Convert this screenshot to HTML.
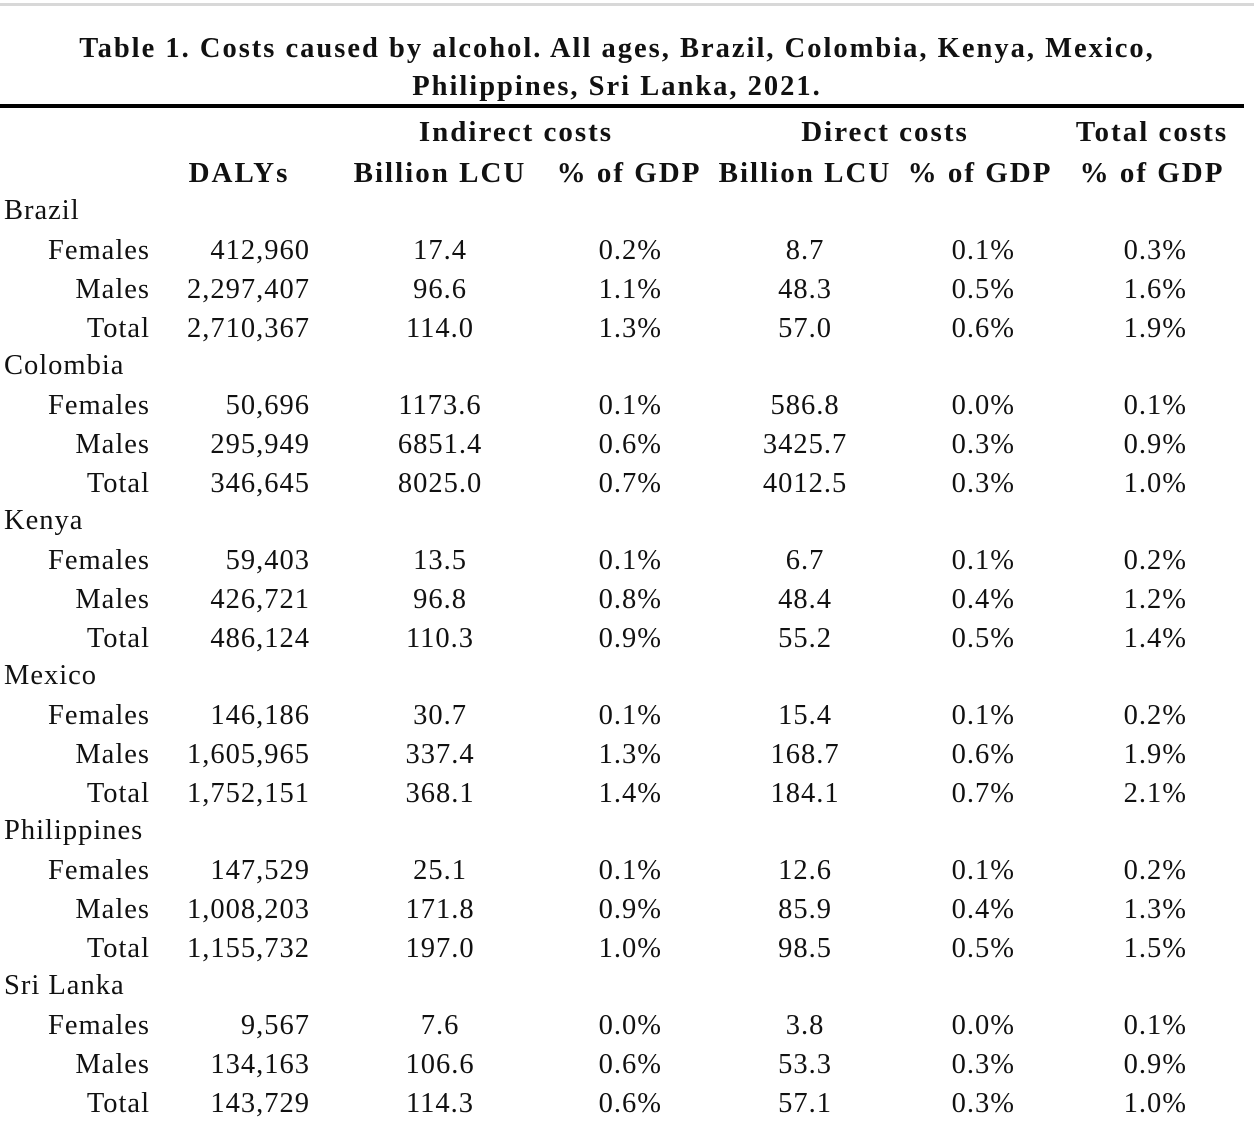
<!DOCTYPE html>
<html><head><meta charset="utf-8"><style>
body{margin:0;width:1254px;height:1118px;background:#fff;position:relative;overflow:hidden;font-family:"Liberation Serif","DejaVu Serif",serif;color:#111;font-size:28.5px;letter-spacing:1px}
.g{position:absolute;left:0;top:3px;width:1254px;height:3px;background:#d8d8d8}
.rule{position:absolute;left:0;top:104px;width:1244px;height:4px;background:#000}
.t{position:absolute;left:0;width:1234px;text-align:center;font-weight:bold;font-size:28.5px;line-height:36px;letter-spacing:2px}
.r{position:absolute;left:0;width:1254px;height:38px;line-height:38px}
.r span{position:absolute;top:0;white-space:nowrap}
.h{font-weight:bold;font-size:29px;letter-spacing:2px}
.n{left:4px}
.l{left:0;width:150px;text-align:right}
.c1{left:150px;width:160px;text-align:right}
.c2{left:340px;width:200px;text-align:center}
.c3{left:540px;width:122px;text-align:right}
.c4{left:705px;width:200px;text-align:center}
.c5{left:893px;width:122px;text-align:right}
.c6{left:1065px;width:122px;text-align:right}
</style></head><body>
<div class="g"></div>
<div class="t" style="top:31px">Table 1. Costs caused by alcohol. All ages, Brazil, Colombia, Kenya, Mexico,</div>
<div class="t" style="top:69px">Philippines, Sri Lanka, 2021.</div>
<div class="rule"></div>
<div class="r h" style="top:113px"><span style="left:366px;width:300px;text-align:center">Indirect costs</span><span style="left:735px;width:300px;text-align:center">Direct costs</span><span style="left:1052px;width:200px;text-align:center">Total costs</span></div>
<div class="r h" style="top:154px"><span style="left:139px;width:200px;text-align:center">DALYs</span><span class="c2">Billion LCU</span><span style="left:529px;width:200px;text-align:center">% of GDP</span><span class="c4">Billion LCU</span><span style="left:880px;width:200px;text-align:center">% of GDP</span><span style="left:1052px;width:200px;text-align:center">% of GDP</span></div>

<div class="r" style="top:192px"><span class="n">Brazil</span></div>
<div class="r" style="top:232px"><span class="l">Females</span><span class="c1">412,960</span><span class="c2">17.4</span><span class="c3">0.2%</span><span class="c4">8.7</span><span class="c5">0.1%</span><span class="c6">0.3%</span></div>
<div class="r" style="top:271px"><span class="l">Males</span><span class="c1">2,297,407</span><span class="c2">96.6</span><span class="c3">1.1%</span><span class="c4">48.3</span><span class="c5">0.5%</span><span class="c6">1.6%</span></div>
<div class="r" style="top:310px"><span class="l">Total</span><span class="c1">2,710,367</span><span class="c2">114.0</span><span class="c3">1.3%</span><span class="c4">57.0</span><span class="c5">0.6%</span><span class="c6">1.9%</span></div>

<div class="r" style="top:347px"><span class="n">Colombia</span></div>
<div class="r" style="top:387px"><span class="l">Females</span><span class="c1">50,696</span><span class="c2">1173.6</span><span class="c3">0.1%</span><span class="c4">586.8</span><span class="c5">0.0%</span><span class="c6">0.1%</span></div>
<div class="r" style="top:426px"><span class="l">Males</span><span class="c1">295,949</span><span class="c2">6851.4</span><span class="c3">0.6%</span><span class="c4">3425.7</span><span class="c5">0.3%</span><span class="c6">0.9%</span></div>
<div class="r" style="top:465px"><span class="l">Total</span><span class="c1">346,645</span><span class="c2">8025.0</span><span class="c3">0.7%</span><span class="c4">4012.5</span><span class="c5">0.3%</span><span class="c6">1.0%</span></div>

<div class="r" style="top:502px"><span class="n">Kenya</span></div>
<div class="r" style="top:542px"><span class="l">Females</span><span class="c1">59,403</span><span class="c2">13.5</span><span class="c3">0.1%</span><span class="c4">6.7</span><span class="c5">0.1%</span><span class="c6">0.2%</span></div>
<div class="r" style="top:581px"><span class="l">Males</span><span class="c1">426,721</span><span class="c2">96.8</span><span class="c3">0.8%</span><span class="c4">48.4</span><span class="c5">0.4%</span><span class="c6">1.2%</span></div>
<div class="r" style="top:620px"><span class="l">Total</span><span class="c1">486,124</span><span class="c2">110.3</span><span class="c3">0.9%</span><span class="c4">55.2</span><span class="c5">0.5%</span><span class="c6">1.4%</span></div>

<div class="r" style="top:657px"><span class="n">Mexico</span></div>
<div class="r" style="top:697px"><span class="l">Females</span><span class="c1">146,186</span><span class="c2">30.7</span><span class="c3">0.1%</span><span class="c4">15.4</span><span class="c5">0.1%</span><span class="c6">0.2%</span></div>
<div class="r" style="top:736px"><span class="l">Males</span><span class="c1">1,605,965</span><span class="c2">337.4</span><span class="c3">1.3%</span><span class="c4">168.7</span><span class="c5">0.6%</span><span class="c6">1.9%</span></div>
<div class="r" style="top:775px"><span class="l">Total</span><span class="c1">1,752,151</span><span class="c2">368.1</span><span class="c3">1.4%</span><span class="c4">184.1</span><span class="c5">0.7%</span><span class="c6">2.1%</span></div>

<div class="r" style="top:812px"><span class="n">Philippines</span></div>
<div class="r" style="top:852px"><span class="l">Females</span><span class="c1">147,529</span><span class="c2">25.1</span><span class="c3">0.1%</span><span class="c4">12.6</span><span class="c5">0.1%</span><span class="c6">0.2%</span></div>
<div class="r" style="top:891px"><span class="l">Males</span><span class="c1">1,008,203</span><span class="c2">171.8</span><span class="c3">0.9%</span><span class="c4">85.9</span><span class="c5">0.4%</span><span class="c6">1.3%</span></div>
<div class="r" style="top:930px"><span class="l">Total</span><span class="c1">1,155,732</span><span class="c2">197.0</span><span class="c3">1.0%</span><span class="c4">98.5</span><span class="c5">0.5%</span><span class="c6">1.5%</span></div>

<div class="r" style="top:967px"><span class="n">Sri Lanka</span></div>
<div class="r" style="top:1007px"><span class="l">Females</span><span class="c1">9,567</span><span class="c2">7.6</span><span class="c3">0.0%</span><span class="c4">3.8</span><span class="c5">0.0%</span><span class="c6">0.1%</span></div>
<div class="r" style="top:1046px"><span class="l">Males</span><span class="c1">134,163</span><span class="c2">106.6</span><span class="c3">0.6%</span><span class="c4">53.3</span><span class="c5">0.3%</span><span class="c6">0.9%</span></div>
<div class="r" style="top:1085px"><span class="l">Total</span><span class="c1">143,729</span><span class="c2">114.3</span><span class="c3">0.6%</span><span class="c4">57.1</span><span class="c5">0.3%</span><span class="c6">1.0%</span></div>
</body></html>
